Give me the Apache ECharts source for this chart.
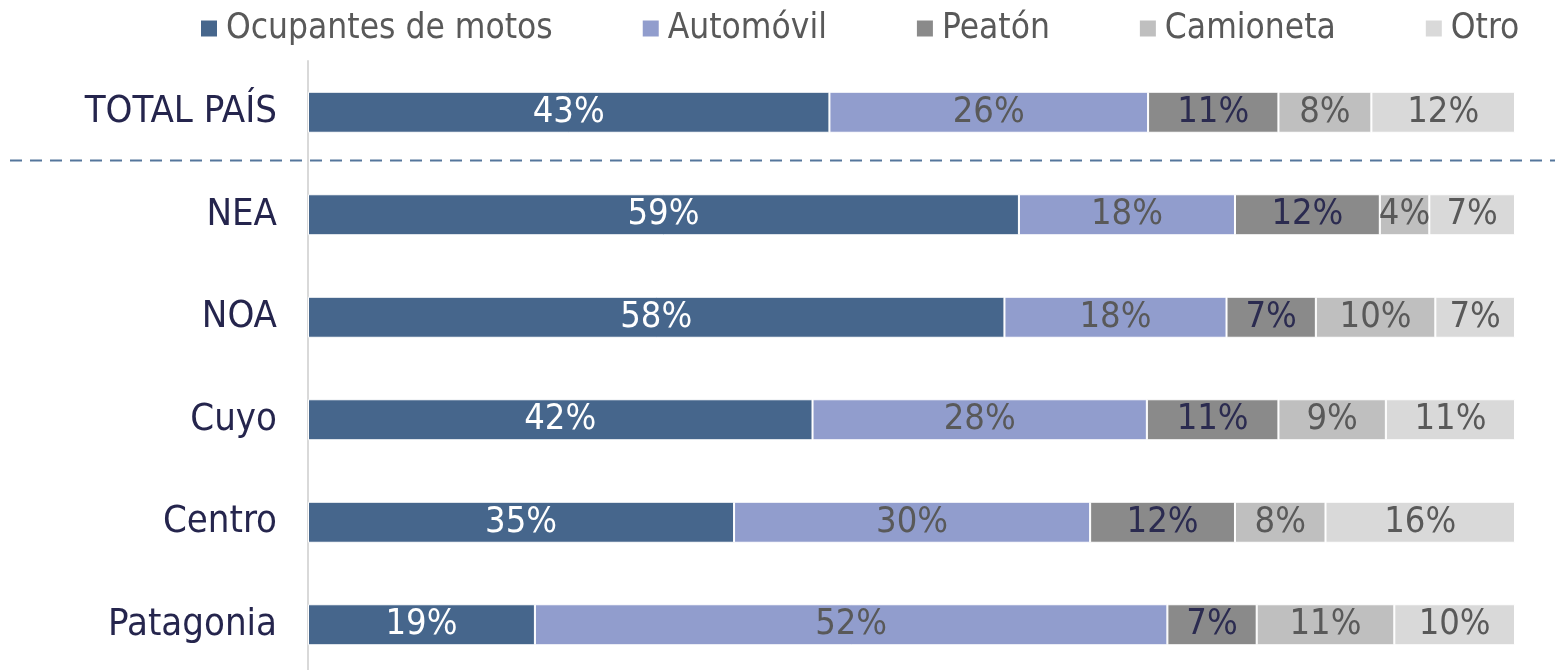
<!DOCTYPE html>
<html>
<head>
<meta charset="utf-8">
<script src="https://cdn.jsdelivr.net/npm/echarts@6/dist/echarts.min.js"></script>
<style>
html,body{margin:0;padding:0;background:#fff;overflow:hidden;height:670px;}
#chart{width:1555px;height:677px;}
</style>
</head>
<body>
<div id="chart"></div>
<script>
const categories = ['TOTAL PAÍS', 'NEA', 'NOA', 'Cuyo', 'Centro', 'Patagonia'];
const seriesNames = ['Ocupantes de motos', 'Automóvil', 'Peatón', 'Camioneta', 'Otro'];
const motos     = [43.2, 58.9, 57.7, 41.8, 35.3, 18.8];
const automovil = [26.4, 17.9, 18.4, 27.7, 29.5, 52.4];
const peaton    = [10.8, 12.0, 7.4, 10.9, 12.0, 7.4];
const camioneta = [7.7, 4.1, 9.9, 8.9, 7.5, 11.4];
const otro      = [11.9, 7.1, 6.6, 10.7, 15.7, 10.0];

const seriesData = [motos, automovil, peaton, camioneta, otro];
const colors = ['#46668C', '#919DCD', '#8A8A8A', '#BFBFBF', '#D9D9D9'];
const labelColors = ['#FFFFFF', '#595959', '#2B2B50', '#595959', '#595959'];
const FONT = '"DejaVu Sans Condensed", "DejaVu Sans", sans-serif';

const chart = echarts.init(document.getElementById('chart'));
const option = {
  animation: false,
  textStyle: { fontFamily: FONT },
  legend: {
    top: 11,
    left: 199,
    padding: 0,
    itemWidth: 18,
    itemHeight: 18,
    itemGap: 88,
    icon: 'rect',
    textStyle: { fontFamily: FONT, fontSize: 35, color: '#595959', padding: [0, 0, 0, 3] },
    data: seriesNames
  },
  grid: { left: 308, right: 40, top: 61, bottom: 1 },
  xAxis: { type: 'value', min: 0, max: 100, show: false },
  yAxis: {
    type: 'category',
    data: categories,
    inverse: true,
    axisLine: { show: true, lineStyle: { color: '#D9D9D9', width: 2 } },
    axisTick: { show: false },
    axisLabel: { fontFamily: FONT, fontSize: 38, color: '#25254D', margin: 31 }
  },
  series: seriesNames.map((name, i) => ({
    name: name,
    type: 'bar',
    stack: 'total',
    barWidth: 41,
    data: seriesData[i],
    itemStyle: { color: colors[i], borderColor: '#FFFFFF', borderWidth: 1 },
    label: {
      show: true,
      position: 'inside',
      fontFamily: FONT,
      fontSize: 36,
      color: labelColors[i],
      formatter: p => Math.round(p.value) + '%'
    }
  }))
};
chart.setOption(option);

const y0 = chart.convertToPixel({ yAxisIndex: 0 }, categories[0]);
const y1 = chart.convertToPixel({ yAxisIndex: 0 }, categories[1]);
const ySep = (y0 + y1) / 2 - 3;
chart.setOption({
  graphic: [{
    type: 'line',
    shape: { x1: 10, y1: ySep, x2: 1555, y2: ySep },
    style: { stroke: '#55769C', lineWidth: 2, lineDash: [12, 8] },
    z: 10
  }]
});
</script>
</body>
</html>
